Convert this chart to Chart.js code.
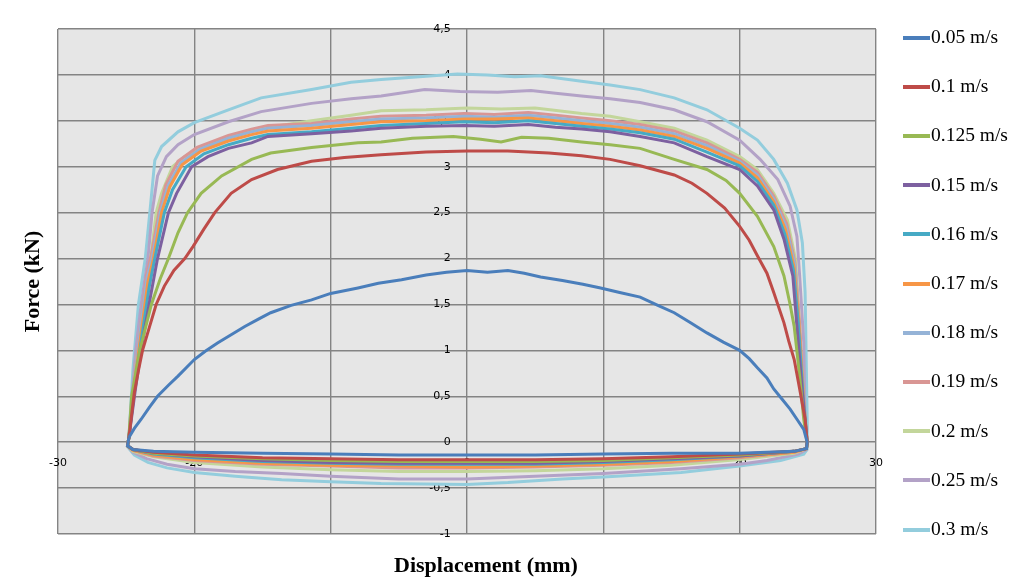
<!DOCTYPE html>
<html>
<head>
<meta charset="utf-8">
<script src="https://cdn.jsdelivr.net/npm/chart.js@4.4.1/dist/chart.umd.min.js"></script>
<style>
  body { margin: 0; background: #fff; }
  #wrap { position: relative; width: 1011px; height: 579px; }
  #legend { position: absolute; left: 903px; top: 0; font-family: "Liberation Serif", serif; font-size: 19.5px; color: #000; }
  #legend div { position: absolute; left: 0; white-space: nowrap; height: 24px; line-height: 24px; }
  #legend span { display: inline-block; width: 27px; height: 4px; vertical-align: middle; margin-right: 1px; position: relative; top: -1px; }
  #xtitle { position: absolute; left: 486px; top: 565px; transform: translate(-50%, -50%); font-family: "Liberation Serif", serif; font-weight: bold; font-size: 22px; color: #000; white-space: nowrap; }
</style>
</head>
<body>
<div id="wrap">
  <canvas id="canvas" width="1011" height="579"></canvas>
  <div id="legend"></div>
  <div id="xtitle">Displacement (mm)</div>
</div>
<script>
// etiquetas das séries e cores (estilo Excel)
var seriesLabels = ['0.05 m/s', '0.1 m/s', '0.125 m/s', '0.15 m/s', '0.16 m/s', '0.17 m/s',
  '0.18 m/s', '0.19 m/s', '0.2 m/s', '0.25 m/s', '0.3 m/s'];
var seriesColors = ['#4A7EBB', '#BE4B48', '#98B954', '#7D60A0', '#46AAC5', '#F79646',
  '#95B3D7', '#D99694', '#C3D69B', '#B3A2C7', '#93CDDD'];

// ticks
var xTicks = [-30, -20, -10, 0, 10, 20, 30];
var yTicks = [-1, -0.5, 0, 0.5, 1, 1.5, 2, 2.5, 3, 3.5, 4, 4.5];

// curvas força x deslocamento [mm, kN]
var v005 = [[-24.8,0.05],[-24.4,0.15],[-23.9,0.25],[-23.3,0.38],[-22.7,0.5],[-21.9,0.62],[-21.2,0.72],[-20,0.9],
  [-19.2,0.99],[-18.3,1.08],[-17.3,1.17],[-16.3,1.26],[-15.3,1.34],[-14.4,1.41],[-12.9,1.49],[-11.4,1.55],[-10,1.62],
  [-8,1.68],[-6.5,1.73],[-4.8,1.77],[-3,1.82],[-1.5,1.85],[0,1.87],[1.5,1.85],[3,1.87],[4.2,1.84],[5.4,1.8],[7,1.76],
  [8.5,1.72],[9.8,1.68],[11.2,1.63],[12.7,1.58],[14,1.49],[15.2,1.41],[16.4,1.3],[17.6,1.19],[18.8,1.09],[20,1],
  [20.7,0.91],[21.3,0.81],[22,0.7],[22.5,0.58],[23.1,0.47],[23.7,0.36],[24.2,0.25],[24.7,0.14],[24.95,0],[24.9,-0.07],
  [24,-0.1],[20,-0.12],[15,-0.12],[10,-0.13],[5,-0.14],[0,-0.14],[-5,-0.14],[-10,-0.13],[-15,-0.12],[-20,-0.11],
  [-23,-0.1],[-24.5,-0.08],[-24.9,-0.04],[-24.8,0.05]];
var v01 = [[-24.8,0.05],[-24.6,0.3],[-24.4,0.54],[-24.1,0.78],[-23.8,1],[-23.3,1.25],[-22.8,1.5],[-22.2,1.7],
  [-21.5,1.87],[-20.7,2],[-20.1,2.13],[-19.3,2.32],[-18.5,2.5],[-17.3,2.71],[-15.8,2.86],[-13.9,2.97],[-11.4,3.06],
  [-9,3.1],[-6.3,3.13],[-3,3.16],[0,3.17],[3,3.17],[6,3.15],[8.4,3.12],[10.5,3.08],[12.7,3.01],[15.2,2.91],
  [16.5,2.82],[17.6,2.71],[18.9,2.55],[20,2.35],[20.7,2.2],[21.3,2.03],[22,1.84],[22.5,1.63],[23.25,1.3],[23.6,1.1],
  [24,0.9],[24.4,0.58],[24.8,0.25],[24.95,0],[24.9,-0.07],[24,-0.1],[20,-0.13],[15,-0.16],[10,-0.18],[5,-0.19],
  [0,-0.19],[-5,-0.19],[-10,-0.18],[-15,-0.17],[-20,-0.14],[-23,-0.11],[-24.5,-0.08],[-24.9,-0.04],[-24.8,0.05]];
var v0125 = [[-24.8,0.05],[-24.6,0.5],[-24,1],[-23.15,1.5],[-22.5,1.78],[-21.9,2],[-21.2,2.28],[-20.5,2.5],
  [-19.5,2.71],[-18,2.9],[-15.8,3.08],[-14.4,3.15],[-11.4,3.21],[-8,3.26],[-6.3,3.27],[-4,3.31],[-1,3.33],[1,3.3],
  [2.5,3.27],[4,3.32],[6,3.31],[8.4,3.27],[10.5,3.24],[12.7,3.2],[15.2,3.08],[17.6,2.97],[19,2.85],[20,2.71],
  [21.3,2.46],[22.5,2.13],[23.25,1.81],[23.7,1.5],[24,1.26],[24.4,0.72],[24.7,0.25],[24.95,0],[24.9,-0.07],
  [24,-0.1],[20,-0.14],[15,-0.17],[10,-0.2],[5,-0.21],[0,-0.21],[-5,-0.21],[-10,-0.2],[-15,-0.18],[-20,-0.15],
  [-23,-0.12],[-24.5,-0.08],[-24.9,-0.04],[-24.8,0.05]];
var v015 = [[-24.8,0.05],[-24.3,0.6],[-23.8,1.1],[-23.2,1.6],[-22.7,2],[-21.9,2.5],[-21.3,2.71],[-20.2,3],
  [-19,3.11],[-17.5,3.2],[-15.8,3.26],[-14.6,3.33],[-11.4,3.36],[-8.5,3.39],[-6.3,3.42],[-3,3.44],[-0.2,3.45],
  [2,3.44],[4.5,3.46],[6.5,3.43],[8.4,3.41],[10.5,3.38],[12.7,3.33],[15.2,3.26],[17.6,3.11],[20,2.97],[21.3,2.79],
  [22.5,2.53],[23.25,2.21],[23.9,1.81],[24.2,1.26],[24.6,0.54],[24.95,0],[24.9,-0.07],[24,-0.1],[20,-0.15],
  [15,-0.18],[10,-0.21],[5,-0.23],[0,-0.23],[-5,-0.23],[-10,-0.22],[-15,-0.2],[-20,-0.16],[-23,-0.12],
  [-24.5,-0.08],[-24.9,-0.04],[-24.8,0.05]];
var v016 = [[-24.8,0.05],[-24.3,0.7],[-23.8,1.2],[-23.3,1.7],[-22.9,2],[-22.2,2.5],[-21.6,2.75],[-20.6,3],
  [-19.3,3.14],[-17.5,3.24],[-15.8,3.31],[-14.6,3.35],[-11.4,3.38],[-8.5,3.42],[-6.3,3.45],[-3,3.47],[-0.2,3.49],
  [2,3.48],[4.5,3.5],[6.5,3.47],[8.4,3.44],[10.5,3.41],[12.7,3.37],[15.2,3.3],[17.6,3.16],[20,3.01],[21.3,2.84],
  [22.5,2.58],[23.3,2.27],[23.95,1.87],[24.3,1.3],[24.65,0.5],[24.95,0],[24.9,-0.07],[24,-0.1],[20,-0.15],
  [15,-0.19],[10,-0.22],[5,-0.24],[0,-0.24],[-5,-0.24],[-10,-0.23],[-15,-0.21],[-20,-0.17],[-23,-0.13],
  [-24.5,-0.08],[-24.9,-0.04],[-24.8,0.05]];
var v017 = [[-24.8,0.05],[-24.3,0.75],[-23.8,1.3],[-23.4,1.75],[-23,2],[-22.4,2.5],[-21.8,2.78],[-20.9,3.02],
  [-19.5,3.17],[-17.5,3.28],[-15.8,3.35],[-14.6,3.39],[-11.4,3.42],[-8.5,3.46],[-6.3,3.49],[-3,3.5],[-0.2,3.52],
  [2,3.52],[4.5,3.53],[6.5,3.5],[8.4,3.47],[10.5,3.44],[12.7,3.4],[15.2,3.33],[17.6,3.2],[20,3.04],[21.3,2.88],
  [22.5,2.62],[23.35,2.32],[24,1.9],[24.35,1.3],[24.7,0.45],[24.95,0],[24.9,-0.07],[24,-0.11],[20,-0.16],
  [15,-0.21],[10,-0.24],[5,-0.26],[0,-0.27],[-5,-0.26],[-10,-0.25],[-15,-0.23],[-20,-0.19],[-23,-0.14],
  [-24.5,-0.09],[-24.9,-0.04],[-24.8,0.05]];
var v018 = [[-24.8,0.05],[-24.3,0.78],[-23.85,1.35],[-23.45,1.8],[-23.1,2],[-22.5,2.5],[-21.9,2.8],[-21,3.04],
  [-19.6,3.19],[-17.5,3.31],[-15.8,3.38],[-14.6,3.42],[-11.4,3.45],[-8.5,3.49],[-6.3,3.52],[-3,3.53],[-0.2,3.55],
  [2,3.54],[4.5,3.56],[6.5,3.53],[8.4,3.5],[10.5,3.47],[12.7,3.43],[15.2,3.36],[17.6,3.23],[20,3.06],[21.3,2.91],
  [22.5,2.65],[23.4,2.35],[24.05,1.93],[24.35,1.28],[24.7,0.42],[24.95,0],[24.9,-0.07],[24,-0.1],[20,-0.15],
  [15,-0.2],[10,-0.23],[5,-0.25],[0,-0.25],[-5,-0.25],[-10,-0.24],[-15,-0.22],[-20,-0.18],[-23,-0.13],
  [-24.5,-0.08],[-24.9,-0.04],[-24.8,0.05]];
var v019 = [[-24.8,0.05],[-24.3,0.8],[-23.85,1.38],[-23.5,1.82],[-23.15,2.05],[-22.6,2.5],[-22.1,2.8],[-21.2,3.06],
  [-19.8,3.21],[-17.5,3.34],[-15.8,3.41],[-14.6,3.45],[-11.4,3.47],[-8.5,3.52],[-6.3,3.55],[-3,3.56],[-0.2,3.58],
  [2,3.57],[4.5,3.59],[6.5,3.56],[8.4,3.53],[10.5,3.5],[12.7,3.46],[15.2,3.39],[17.6,3.26],[20,3.08],[21.3,2.94],
  [22.5,2.68],[23.45,2.38],[24.05,1.96],[24.4,1.27],[24.7,0.38],[24.95,0],[24.9,-0.07],[24,-0.11],[20,-0.17],
  [15,-0.22],[10,-0.25],[5,-0.27],[0,-0.28],[-5,-0.28],[-10,-0.26],[-15,-0.24],[-20,-0.2],[-23,-0.15],
  [-24.5,-0.09],[-24.9,-0.04],[-24.8,0.05]];
var v02 = [[-24.8,0.05],[-24.3,0.8],[-23.8,1.4],[-23.2,2],[-22.8,2.5],[-22.4,2.71],[-21.6,3],[-20.7,3.11],
  [-18.75,3.26],[-17.5,3.33],[-15,3.42],[-11.4,3.5],[-8.5,3.56],[-6.3,3.61],[-3,3.62],[0,3.64],[2.5,3.63],[5,3.64],
  [8.4,3.58],[10.5,3.55],[12.7,3.49],[15.2,3.42],[17.6,3.29],[20,3.11],[21.3,2.97],[22.5,2.71],[23.5,2.42],
  [24.1,1.99],[24.4,1.26],[24.7,0.36],[24.95,0],[24.9,-0.07],[24,-0.12],[20,-0.19],[15,-0.25],[10,-0.29],
  [5,-0.31],[0,-0.32],[-5,-0.32],[-10,-0.3],[-15,-0.27],[-20,-0.22],[-23,-0.16],[-24.5,-0.1],[-24.9,-0.04],[-24.8,0.05]];
var v025 = [[-24.8,0.05],[-24.3,1],[-23.9,1.5],[-23.4,2],[-23.1,2.5],[-22.7,2.9],[-22.05,3.11],[-21.2,3.24],
  [-20,3.35],[-17.5,3.49],[-15.1,3.6],[-11.4,3.69],[-8.5,3.74],[-6.3,3.77],[-3.1,3.84],[-0.5,3.82],[2.25,3.81],
  [4.7,3.83],[6.5,3.8],[8.4,3.77],[10.5,3.74],[12.7,3.7],[15.2,3.62],[17.6,3.49],[20,3.29],[21.5,3.08],[22.8,2.86],
  [23.7,2.57],[24.2,2.24],[24.4,1.81],[24.7,1.09],[24.8,0.18],[24.95,-0.02],[24.9,-0.08],[24.3,-0.13],[22,-0.2],
  [20,-0.24],[15.7,-0.29],[10,-0.34],[5,-0.37],[0,-0.4],[-5,-0.4],[-10,-0.37],[-13.6,-0.34],[-17,-0.32],
  [-20,-0.29],[-22,-0.24],[-23.5,-0.18],[-24.5,-0.11],[-24.9,-0.04],[-24.8,0.05]];
var v03 = [[-24.8,0.05],[-24.5,0.8],[-24.1,1.5],[-23.6,2],[-23.2,2.6],[-22.9,3.07],[-22.4,3.22],[-21.2,3.38],
  [-20,3.48],[-17.5,3.62],[-15.1,3.75],[-11.4,3.84],[-8.5,3.92],[-6.3,3.95],[-3.5,3.98],[-0.7,4.01],[1.5,4],
  [3.5,3.98],[5.4,3.99],[8.4,3.93],[10.5,3.89],[12.7,3.84],[15.2,3.75],[17.6,3.62],[20,3.42],[21.3,3.29],
  [22.5,3.08],[23.5,2.82],[24.2,2.53],[24.6,2.17],[24.8,1.63],[24.96,0.18],[24.95,-0.08],[24.7,-0.13],[23,-0.2],
  [20,-0.26],[15.7,-0.33],[10,-0.38],[7,-0.4],[3,-0.44],[0,-0.46],[-6.3,-0.45],[-10,-0.43],[-13.6,-0.41],
  [-17,-0.37],[-20,-0.33],[-22,-0.28],[-23.4,-0.22],[-24.4,-0.14],[-24.9,-0.05],[-24.8,0.05]];

var seriesData = [v005, v01, v0125, v015, v016, v017, v018, v019, v02, v025, v03];

var toPoints = function(arr) {
  return arr.map(function(p) { return {x: p[0], y: p[1]}; });
};

var datasets = seriesData.map(function(arr, i) {
  return {
    label: seriesLabels[i],
    data: toPoints(arr),
    borderColor: seriesColors[i],
    backgroundColor: seriesColors[i],
    borderWidth: 3,
    pointRadius: 0,
    showLine: true,
    fill: false,
    tension: 0
  };
});

// fundo cinza da área do gráfico
var plotBg = {
  id: 'plotBg',
  beforeDraw: function(chart) {
    var a = chart.chartArea;
    chart.ctx.save();
    chart.ctx.fillStyle = '#E6E6E6';
    chart.ctx.fillRect(a.left, a.top, a.right - a.left, a.bottom - a.top);
    chart.ctx.restore();
  }
};

var gridColor = '#848484';
var tickFont = {family: 'DejaVu Sans', size: 11};
var titleFont = {family: 'Liberation Serif', size: 22, weight: 'bold'};

var ctx = document.getElementById('canvas').getContext('2d');
window.forceChart = new Chart(ctx, {
  type: 'scatter',
  data: {datasets: datasets},
  plugins: [plotBg],
  options: {
    responsive: false,
    animation: false,
    layout: {padding: {top: 29, right: 135, left: 0, bottom: 0}},
    plugins: {legend: {display: false}, tooltip: {enabled: false}},
    scales: {
      x: {
        type: 'linear', position: 'bottom', min: -30, max: 30,
        afterBuildTicks: function(s) { s.ticks = xTicks.map(function(v) { return {value: v}; }); },
        ticks: {display: false},
        grid: {color: gridColor, lineWidth: 1.4, drawTicks: false},
        border: {display: false},
        afterFit: function(s) { s.height = 45; }
      },
      y: {
        type: 'linear', position: 'left', min: -1, max: 4.5,
        afterBuildTicks: function(s) { s.ticks = yTicks.map(function(v) { return {value: v}; }); },
        ticks: {display: false},
        grid: {color: gridColor, lineWidth: 1.4, drawTicks: false},
        border: {display: false},
        title: {display: true, text: 'Force (kN)', font: titleFont, color: '#000', padding: {top: 20, bottom: 0}},
        afterFit: function(s) { s.width = 58; }
      },
      xc: {
        type: 'linear', axis: 'x', position: {y: 0}, min: -30, max: 30,
        afterBuildTicks: function(s) { s.ticks = xTicks.map(function(v) { return {value: v}; }); },
        ticks: {font: tickFont, color: '#000', padding: 14, maxRotation: 0},
        grid: {display: false, drawTicks: false},
        border: {display: false}
      },
      // rótulos do eixo y um pouco à esquerda de x = 0 (como no Excel)
      yc: {
        type: 'linear', axis: 'y', position: {x: -1.2}, min: -1, max: 4.5,
        afterBuildTicks: function(s) { s.ticks = yTicks.map(function(v) { return {value: v}; }); },
        ticks: {
          font: tickFont, color: '#000',
          callback: function(v) { return String(v).replace('.', ','); }
        },
        grid: {display: false, drawTicks: false},
        border: {display: false}
      }
    }
  }
});

// legenda à direita
var legendEl = document.getElementById('legend');
seriesLabels.forEach(function(lbl, i) {
  var item = document.createElement('div');
  item.style.top = (25 + i * 49.2) + 'px';
  item.innerHTML = '<span style="background:' + seriesColors[i] + '"></span>' + lbl;
  legendEl.appendChild(item);
});
</script>
</body>
</html>
